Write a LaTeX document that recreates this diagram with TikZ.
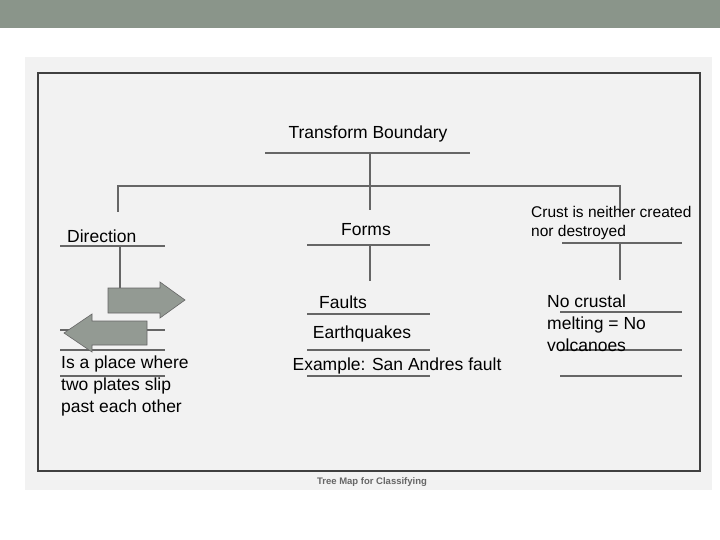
\documentclass[tikz,border=0pt]{standalone}
\usepackage{fontspec}
\setmainfont{Liberation Sans}
\begin{document}
\begin{tikzpicture}[x=1pt,y=-1pt,
  ln/.style={draw=black!60,line width=2.6pt},
  tx/.style={font=\fontsize{17.5}{22}\selectfont,inner sep=0pt},
  arr/.style={fill=black!40!green!6!gray!80,draw=black!60,line width=0.6pt}]
\useasboundingbox (0,0) rectangle (720,540);
\fill[white] (0,0) rectangle (720,540);
\fill[black!35!green!8!gray!85] (0,0) rectangle (720,28);
\fill[black!5] (25,57) rectangle (712,490);
\draw[black!75,line width=2.5pt] (38,73) rectangle (700,471);
\node[font=\bfseries\fontsize{9.5}{10}\selectfont,text=black!60] (cap) at (372,482) {Tree Map for Classifying};
% root
\node[tx] (tb) at (368,134) {Transform Boundary};
\coordinate (r0) at (265,153); \coordinate (r1) at (470,153);
\draw[ln] (r0) -- (r1);
\coordinate (rc) at (370,153); \coordinate (hc) at (370,186);
\coordinate (hl) at (118,186); \coordinate (hr) at (620,186);
\coordinate (dl) at (118,212); \coordinate (dc) at (370,210); \coordinate (dr) at (620,212);
\draw[ln] (rc) -- (hc) -- (dc);
\draw[ln] (dl) -- (hl) -- (hr) -- (dr);
% direction column
\node[tx,anchor=west] (dir) at (67,236) {Direction};
\draw[ln,line width=1.8pt] (60,246) -- (165,246);
\draw[ln] (120,246) -- (120,296);
\draw[ln,line width=1.8pt] (60,330) -- (165,330);
\draw[ln,line width=1.8pt] (60,350) -- (165,350);
\draw[ln,line width=1.8pt] (60,376) -- (165,376);
\draw[arr] (108,288) -- (160,288) -- (160,282) -- (185,300) -- (160,318) -- (160,313) -- (108,313) -- cycle;
\draw[arr] (147,321) -- (92,321) -- (92,314) -- (64,333) -- (92,352) -- (92,345) -- (147,345) -- cycle;
\node[tx,anchor=north west,align=left] (place) at (61,356) {Is a place where\\two plates slip\\past each other};
% forms column
\node[tx] (forms) at (366,230) {Forms};
\draw[ln,line width=1.8pt] (307,245) -- (430,245);
\draw[ln] (370,245) -- (370,281);
\node[tx] (faults) at (343,302) {Faults};
\draw[ln,line width=1.8pt] (307,314) -- (430,314);
\node[tx] (eq) at (362,334) {Earthquakes};
\draw[ln,line width=1.8pt] (307,350) -- (430,350);
\node[tx] (ex) at (397,366) {Example: San Andres fault};
\draw[ln,line width=1.8pt] (307,376) -- (430,376);
% right column
\node[anchor=north west,align=left,inner sep=0pt,font=\fontsize{15.5}{19}\selectfont] (crust) at (531,206) {Crust is neither created\\nor destroyed};
\draw[ln,line width=1.8pt] (562,243) -- (682,243);
\draw[ln] (620,243) -- (620,280);
\draw[ln,line width=1.8pt] (560,312) -- (682,312);
\draw[ln,line width=1.8pt] (560,350) -- (682,350);
\draw[ln,line width=1.8pt] (560,376) -- (682,376);
\node[tx,anchor=north west,align=left] (nc) at (547,295) {No crustal\\melting = No\\volcanoes};
\end{tikzpicture}
\end{document}
